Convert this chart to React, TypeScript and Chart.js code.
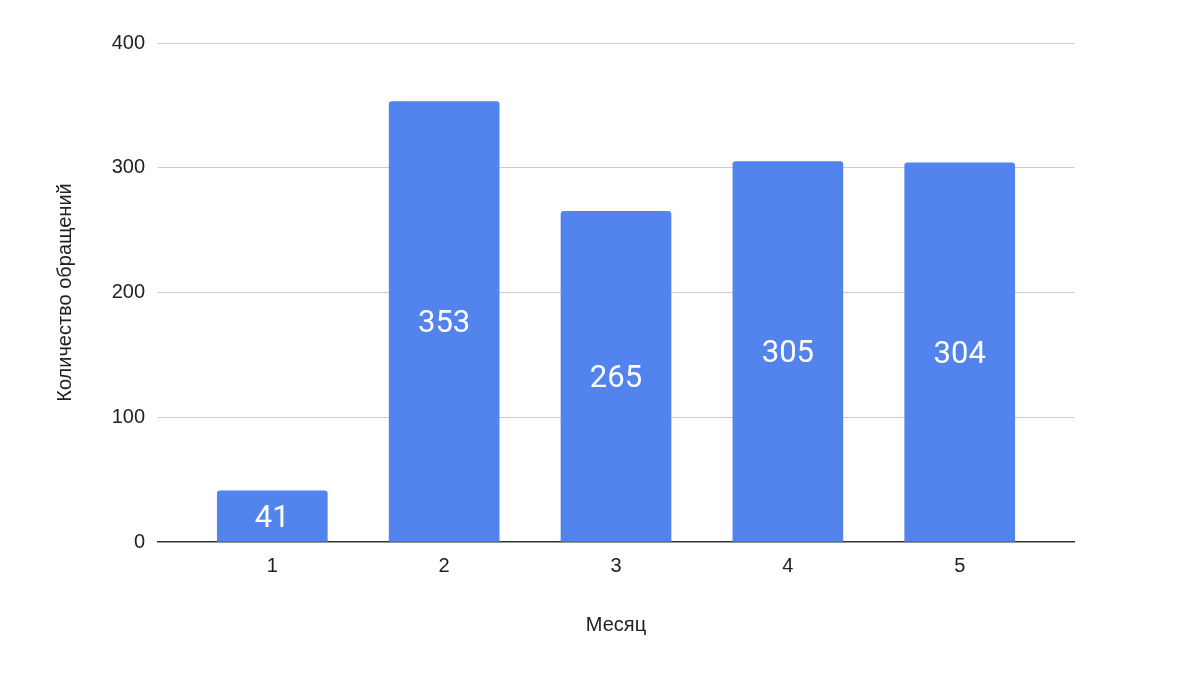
import React, { useEffect, useRef } from "react";
import { Chart, registerables } from "chart.js";

Chart.register(...registerables);

const months = [1, 2, 3, 4, 5];
const requests = [41, 353, 265, 305, 304];
const yTicks = [0, 100, 200, 300, 400];
const xTitle = "Месяц";
const yTitle = "Количество обращений";

const AXIS_FONT = "'Liberation Sans', Arial, sans-serif";
const LABEL_FONT = "Roboto, 'Noto Sans', sans-serif";

const valueLabels = {
  id: "valueLabels",
  afterDatasetsDraw(chart: any) {
    const ctx = chart.ctx;
    const meta = chart.getDatasetMeta(0);
    ctx.save();
    ctx.fillStyle = "#ffffff";
    ctx.font = `31px ${LABEL_FONT}`;
    ctx.textAlign = "center";
    ctx.textBaseline = "middle";
    meta.data.forEach((el: any, i: number) => {
      const cy = (el.y + el.base) / 2;
      ctx.fillText(String(requests[i]), el.x, cy + 3);
    });
    ctx.restore();
  },
};

export default function App() {
  const ref = useRef<HTMLCanvasElement | null>(null);
  useEffect(() => {
    if (!ref.current) return;
    const chart = new Chart(ref.current, {
      type: "bar",
      data: {
        datasets: [
          {
            data: months.map((m, i) => ({ x: m, y: requests[i] })),
            backgroundColor: "#5383EC",
            barThickness: 110,
            borderRadius: { topLeft: 3, topRight: 3, bottomLeft: 0, bottomRight: 0 },
            borderSkipped: "start",
          },
        ],
      },
      options: {
        animation: false,
        responsive: false,
        layout: { padding: { top: 43, right: 106, bottom: 0, left: 0 } },
        plugins: { legend: { display: false }, tooltip: { enabled: false } },
        scales: {
          x: {
            type: "linear",
            offset: false,
            min: 0.335,
            max: 5.665,
            afterBuildTicks: (scale: any) => {
              scale.ticks = months.map((v) => ({ value: v }));
            },
            afterFit: (scale: any) => {
              scale.height = 140;
            },
            grid: { display: false, drawTicks: false, offset: false },
            border: { display: true, color: "#333333", width: 1.5 },
            ticks: {
              padding: 12,
              color: "#222222",
              font: { family: AXIS_FONT, size: 20 },
              callback: (v: any) => String(v),
            },
            title: {
              display: true,
              text: xTitle,
              color: "#222222",
              font: { family: AXIS_FONT, size: 20 },
              padding: { top: 0, bottom: 45 },
            },
          },
          y: {
            min: 0,
            max: 400,
            afterBuildTicks: (scale: any) => {
              scale.ticks = yTicks.map((v) => ({ value: v }));
            },
            afterFit: (scale: any) => {
              scale.width = 158;
            },
            grid: {
              drawTicks: false,
              color: (c: any) => (c.tick && c.tick.value === 0 ? "rgba(0,0,0,0)" : "#cccccc"),
              lineWidth: 1,
            },
            border: { display: false },
            ticks: {
              padding: 13,
              color: "#222222",
              font: { family: AXIS_FONT, size: 20 },
            },
            title: {
              display: true,
              text: yTitle,
              color: "#222222",
              font: { family: AXIS_FONT, size: 20 },
              padding: { top: 53, bottom: 0 },
            },
          },
        },
      },
      plugins: [valueLabels],
    });
    return () => chart.destroy();
  }, []);
  return (
    <div style={{ position: "fixed", left: 0, top: 0, width: 1180, height: 682, background: "#fff" }}>
      <canvas ref={ref} width={1180} height={682} style={{ width: 1180, height: 682 }} />
    </div>
  );
}
